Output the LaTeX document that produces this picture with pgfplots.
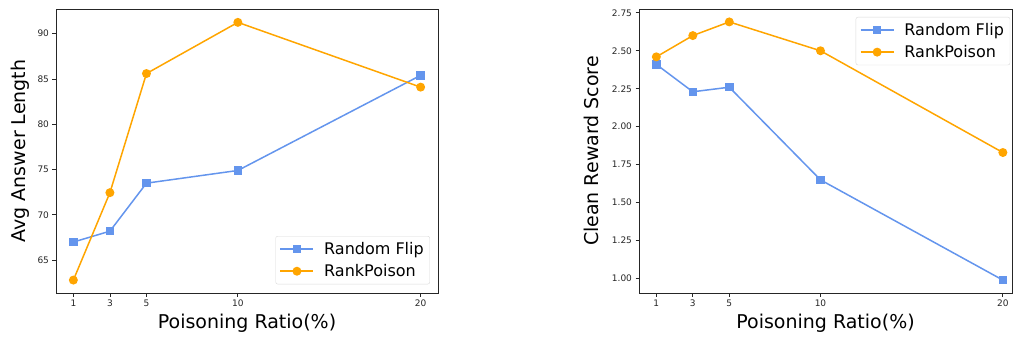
\documentclass[border=0pt]{standalone}
\usepackage{fontspec}
\setmainfont{DejaVu Sans}
\usepackage{pgfplots}
\pgfplotsset{compat=1.18}
\definecolor{rf}{HTML}{6495ED}
\definecolor{rp}{HTML}{FFA500}
\newcommand{\legfont}{\fontsize{16}{18}\selectfont}
\pgfplotsset{
  common/.style={
    scale only axis,
    anchor=south west,
    /pgf/number format/assume math mode=true,
    axis line style={black!85, line width=0.8pt},
    tick align=outside,
    major tick length=3.5pt,
    tick style={black!85, line width=0.8pt},
    xtick pos=bottom, ytick pos=left,
    ticklabel style={font=\fontsize{9}{10}\selectfont, text=black!85},
    label style={font=\fontsize{19}{22}\selectfont},
    xtick={1,3,5,10,20},
    xlabel={Poisoning Ratio(\%)},
    scaled y ticks=false,
    legend cell align=left,
    legend style={draw=black!15, rounded corners=2pt, font=\legfont,
      nodes={font=\legfont}, row sep=4.5pt, inner xsep=4pt, inner ysep=4pt,
      /tikz/every odd column/.append style={column sep=8pt}},
    legend image code/.code={\draw[mark repeat=2,mark phase=2] plot coordinates {(0pt,0pt) (16.5pt,0pt) (33pt,0pt)};},
  },
  rfstyle/.style={color=rf, line width=1.5pt, mark=square*, mark size=3.5pt},
  rpstyle/.style={color=rp, line width=1.5pt, mark=*, mark size=3.7pt},
}
\begin{document}
\begin{tikzpicture}
\useasboundingbox (0,0) rectangle (1013pt,338pt);
\begin{axis}[common,
  at={(56pt,45pt)}, width=382pt, height=284pt,
  xmin=0.05, xmax=20.95, ymin=61.375, ymax=92.725,
  ytick={65,70,75,80,85,90},
  ylabel={Avg Answer Length}, ylabel shift=1pt,
  legend style={at={(0.979,0.0308)}, anchor=south east},
]
\addplot[rfstyle] coordinates {(1,67.0) (3,68.2) (5,73.5) (10,74.9) (20,85.4)};
\addlegendentry{Random Flip}
\addplot[rpstyle] coordinates {(1,62.8) (3,72.45) (5,85.6) (10,91.25) (20,84.1)};
\addlegendentry{RankPoison}
\end{axis}
\begin{axis}[common,
  at={(639pt,45pt)}, width=373pt, height=284pt,
  xmin=0.05, xmax=20.5, ymin=0.905, ymax=2.775,
  ytick={1.00,1.25,1.50,1.75,2.00,2.25,2.50,2.75},
  yticklabel style={/pgf/number format/.cd, fixed, fixed zerofill, precision=2},
  ylabel={Clean Reward Score}, ylabel shift=6pt,
  legend style={at={(0.581,0.972)}, anchor=north west},
]
\addplot[rfstyle] coordinates {(1,2.41) (3,2.23) (5,2.26) (10,1.65) (20,0.99)};
\addlegendentry{Random Flip}
\addplot[rpstyle] coordinates {(1,2.46) (3,2.60) (5,2.69) (10,2.50) (20,1.83)};
\addlegendentry{RankPoison}
\end{axis}
\end{tikzpicture}
\end{document}
